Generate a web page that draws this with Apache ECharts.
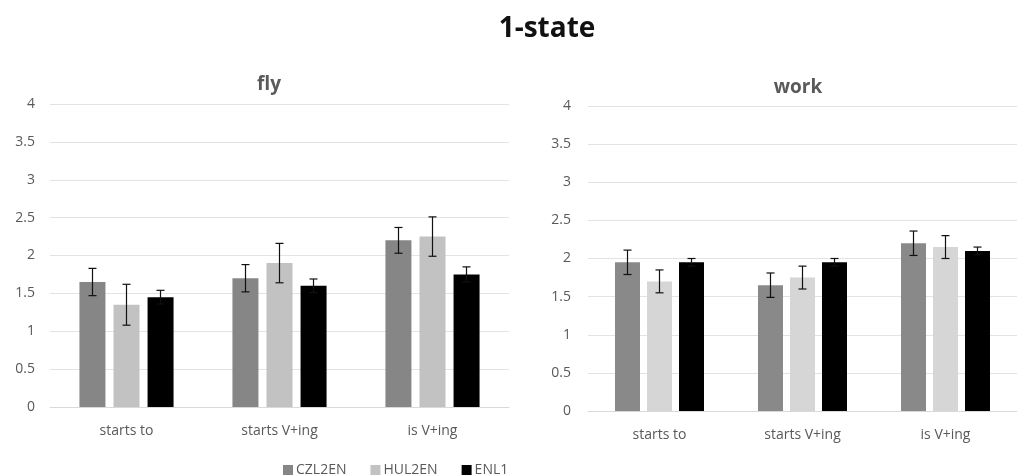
<!DOCTYPE html>
<html>
<head>
<meta charset="utf-8">
<script src="https://cdn.jsdelivr.net/npm/echarts@6/dist/echarts.min.js"></script>
<style>html,body{margin:0;padding:0;background:#fff}#c{width:1017px;height:476px}</style>
</head>
<body>
<div id="c"></div>
<script>
var categories = ['starts to', 'starts V+ing', 'is V+ing'];
var seriesNames = ['CZL2EN', 'HUL2EN', 'ENL1'];
var yTicks = [0, 0.5, 1, 1.5, 2, 2.5, 3, 3.5, 4];

// fly
var flyCZL = [1.65, 1.70, 2.20];
var flyHUL = [1.35, 1.90, 2.25];
var flyENL = [1.45, 1.60, 1.75];
var flyCZLerr = [0.18, 0.18, 0.17];
var flyHULerr = [0.27, 0.26, 0.26];
var flyENLerr = [0.09, 0.09, 0.10];

// work
var workCZL = [1.95, 1.65, 2.20];
var workHUL = [1.70, 1.75, 2.15];
var workENL = [1.95, 1.95, 2.10];
var workCZLerr = [0.16, 0.16, 0.16];
var workHULerr = [0.15, 0.15, 0.15];
var workENLerr = [0.05, 0.05, 0.05];

var FONT = '"Open Sans", "Noto Sans", sans-serif';
var txtColor = '#595959';
var colors = { fly: ['#868686', '#c2c2c2', '#000000'], work: ['#898989', '#d6d6d6', '#000000'] };

function yAxis(gi) {
  return {
    gridIndex: gi, type: 'value', min: 0, max: 4, interval: 0.5,
    axisLine: { show: false }, axisTick: { show: false },
    axisLabel: { color: txtColor, fontSize: 14, fontFamily: FONT, margin: gi === 0 ? 15 : 17,
      formatter: function (v) { return yTicks.indexOf(v) >= 0 ? String(v) : ''; } },
    splitLine: { lineStyle: { color: '#e3e3e3', width: 1 } }
  };
}
function xAxis(gi) {
  return {
    gridIndex: gi, type: 'category', data: categories,
    axisLine: { lineStyle: { color: '#d9d9d9' } }, axisTick: { show: false },
    axisLabel: { color: txtColor, fontSize: 14, fontFamily: FONT, margin: gi === 0 ? 17 : 17 }
  };
}

function errSeries(gi, vals, errs, idx, barW, gap) {
  var data = vals.map(function (v, i) { return [i, v, errs[i]]; });
  return {
    type: 'custom', xAxisIndex: gi, yAxisIndex: gi, z: 10, silent: true,
    data: data,
    renderItem: function (params, api) {
      var ci = api.value(0), v = api.value(1), e = api.value(2);
      var top = api.coord([ci, v + e]);
      var bot = api.coord([ci, v - e]);
      var x = top[0] + (idx - 1) * (barW + gap);
      var cw = 4;
      var st = { stroke: '#111111', lineWidth: 1.2 };
      return { type: 'group', children: [
        { type: 'line', shape: { x1: x, y1: top[1], x2: x, y2: bot[1] }, style: st },
        { type: 'line', shape: { x1: x - cw, y1: top[1], x2: x + cw, y2: top[1] }, style: st },
        { type: 'line', shape: { x1: x - cw, y1: bot[1], x2: x + cw, y2: bot[1] }, style: st }
      ] };
    }
  };
}

function bars(gi, key, arrs, barW, gapPct) {
  return arrs.map(function (a, i) {
    return { name: seriesNames[i], type: 'bar', xAxisIndex: gi, yAxisIndex: gi,
      data: a, barWidth: barW, barGap: gapPct,
      itemStyle: { color: colors[key][i] } };
  });
}

var series = []
  .concat(bars(0, 'fly', [flyCZL, flyHUL, flyENL], 26, '31%'))
  .concat(bars(1, 'work', [workCZL, workHUL, workENL], 25, '28%'))
  .concat([
    errSeries(0, flyCZL, flyCZLerr, 0, 26, 8),
    errSeries(0, flyHUL, flyHULerr, 1, 26, 8),
    errSeries(0, flyENL, flyENLerr, 2, 26, 8),
    errSeries(1, workCZL, workCZLerr, 0, 25, 7),
    errSeries(1, workHUL, workHULerr, 1, 25, 7),
    errSeries(1, workENL, workENLerr, 2, 25, 7)
  ]);

var chart = echarts.init(document.getElementById('c'), null, { renderer: 'canvas' });
chart.setOption({
  backgroundColor: '#ffffff',
  animation: false,
  title: [
    { text: '1-state', left: 542, top: 10, textAlign: 'center',
      textStyle: { fontSize: 28, fontWeight: 'bold', color: '#111', fontFamily: FONT } },
    { text: 'fly', left: 264, top: 70, textAlign: 'center',
      textStyle: { fontSize: 19, fontWeight: 'bold', color: txtColor, fontFamily: FONT } },
    { text: 'work', left: 793, top: 73, textAlign: 'center',
      textStyle: { fontSize: 19, fontWeight: 'bold', color: txtColor, fontFamily: FONT } }
  ],
  legend: {
    data: seriesNames, left: 278, top: 458, itemWidth: 10, itemHeight: 10, itemGap: 24,
    icon: 'rect',
    textStyle: { color: txtColor, fontSize: 14, fontFamily: FONT, padding: [0, 0, 0, -2] }
  },
  grid: [
    { left: 50, right: 508, top: 104, bottom: 69 },
    { left: 588, right: -11, top: 106, bottom: 65 }
  ],
  xAxis: [xAxis(0), xAxis(1)],
  yAxis: [yAxis(0), yAxis(1)],
  series: series
});
</script>
</body>
</html>
